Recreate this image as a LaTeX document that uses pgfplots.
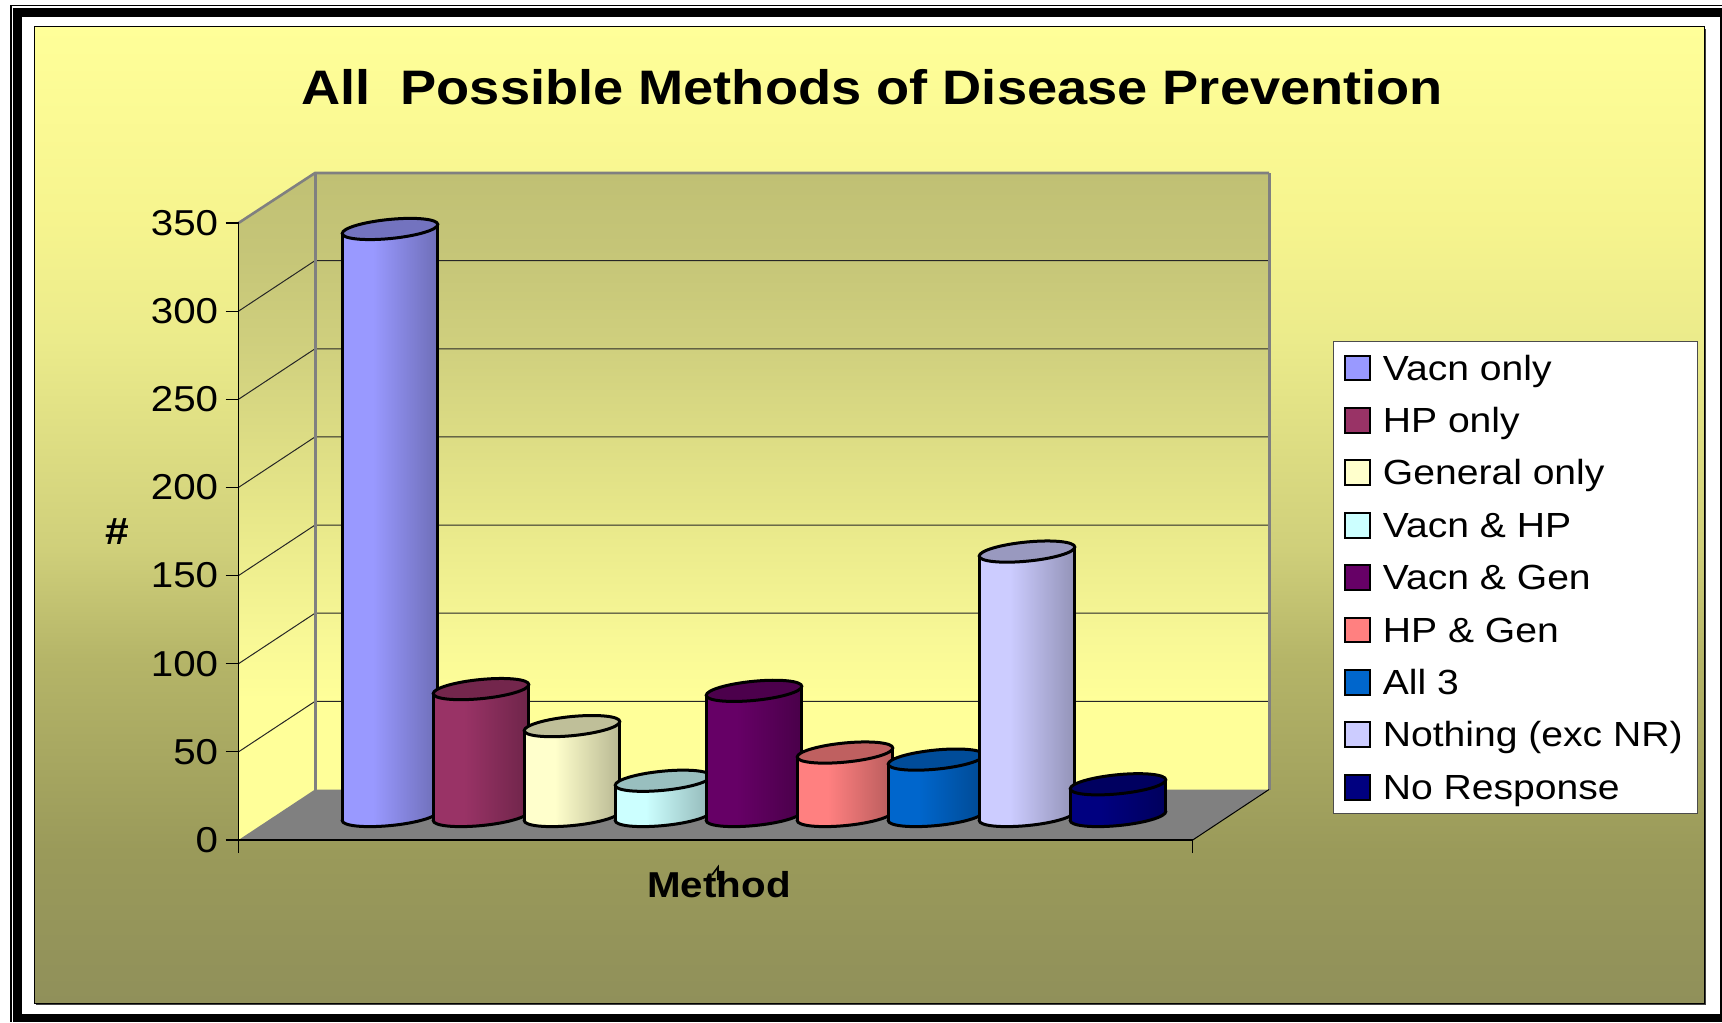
\documentclass[border=0pt]{standalone}
\usepackage{fontspec}
\setmainfont[FakeStretch=1.12]{Liberation Sans}
\usepackage{pgfplots}
\pgfplotsset{compat=1.18}
\usepackage{tikz}

% background gradients (bbox is mapped on 25bp..75bp)
\pgfdeclareverticalshading{chartbg}{100bp}{
  color(0bp)=(rgb,255:red,144;green,144;blue,90);
  color(25bp)=(rgb,255:red,144;green,144;blue,90);
  color(32.8bp)=(rgb,255:red,154;green,154;blue,90);
  color(42.6bp)=(rgb,255:red,181;green,181;blue,104);
  color(48.2bp)=(rgb,255:red,207;green,207;blue,122);
  color(59bp)=(rgb,255:red,235;green,235;blue,139);
  color(65.1bp)=(rgb,255:red,246;green,244;blue,142);
  color(75bp)=(rgb,255:red,255;green,255;blue,153);
  color(100bp)=(rgb,255:red,255;green,255;blue,153)}
\pgfdeclareverticalshading{wallbg}{100bp}{
  color(0bp)=(rgb,255:red,255;green,255;blue,153);
  color(35.5bp)=(rgb,255:red,255;green,255;blue,153);
  color(40bp)=(rgb,255:red,248;green,248;blue,150);
  color(49bp)=(rgb,255:red,232;green,232;blue,138);
  color(61.7bp)=(rgb,255:red,208;green,208;blue,126);
  color(68.5bp)=(rgb,255:red,198;green,198;blue,120);
  color(75bp)=(rgb,255:red,192;green,192;blue,116);
  color(100bp)=(rgb,255:red,192;green,192;blue,116)}

% one colour set per series: side shading, bottom and top ellipse
\newcommand{\defcyl}[2]{%
  \definecolor{cyl#1}{HTML}{#2}%
  \colorlet{cyl#1d}{cyl#1!72!black}%
  \colorlet{cyl#1t}{cyl#1!75!black}%
  \pgfdeclarehorizontalshading{shade#1}{100bp}{
    color(0bp)=(cyl#1); color(41bp)=(cyl#1);
    color(75bp)=(cyl#1d); color(100bp)=(cyl#1d)}%
  \pgfdeclareplotmark{bot#1}{%
    \pgfpathellipse{\pgfpointorigin}{\pgfqpoint{23.9pt}{2.25pt}}{\pgfqpoint{0pt}{4.8pt}}%
    \pgfshadepath{shade#1}{0}%
    \pgfsetlinewidth{1.5pt}\pgfsetstrokecolor{black}%
    \pgfpathellipse{\pgfpointorigin}{\pgfqpoint{23.9pt}{2.25pt}}{\pgfqpoint{0pt}{4.8pt}}%
    \pgfusepath{stroke}}%
  \pgfdeclareplotmark{top#1}{%
    \pgfsetlinewidth{1.5pt}\pgfsetstrokecolor{black}\pgfsetfillcolor{cyl#1t}%
    \pgfpathellipse{\pgfpointorigin}{\pgfqpoint{23.9pt}{2.25pt}}{\pgfqpoint{0pt}{4.8pt}}%
    \pgfusepath{fill,stroke}}%
}
\defcyl{a}{9999FF}
\defcyl{b}{993366}
\defcyl{c}{FFFFCC}
\defcyl{d}{CCFFFF}
\defcyl{e}{660066}
\defcyl{f}{FF8080}
\defcyl{g}{0066CC}
\defcyl{h}{CCCCFF}
\defcyl{i}{000080}

% position, value, colour set
\newcommand{\cyl}[3]{%
  \pgfmathsetmacro\xl{#1-0.525}%
  \pgfmathsetmacro\xr{#1+0.525}%
  \pgfmathsetmacro\tl{#2-2.55}%
  \pgfmathsetmacro\tr{#2+2.55}%
  \addplot[forget plot,only marks,mark=bot#3] coordinates {(#1,0)};
  \addplot[forget plot,draw=none,shade,shading=shade#3] coordinates {(\xl,\tl) (\xr,\tr) (\xr,2.55) (\xl,-2.55)} -- cycle;
  \addplot[forget plot,black,line width=1.5pt,no marks] coordinates {(\xl,-2.55) (\xl,\tl)};
  \addplot[forget plot,black,line width=1.5pt,no marks] coordinates {(\xr,2.55) (\xr,\tr)};
  \addplot[forget plot,only marks,mark=top#3] coordinates {(#1,#2)};
}

\begin{document}
\begin{tikzpicture}
% page, frame, walls and floor, in pixels of the reference
\begin{scope}[x=0.5pt,y=-0.5pt]
  \fill[white] (0,0) rectangle (1722,1022);
  \fill[black] (10,5) rectangle (1722,1022);
  \fill[white] (11.5,6.5) rectangle (1722,1022);
  \fill[black] (13,8) rectangle (1722,1022);
  \fill[white] (22,17) rectangle (1720,1014);
  \fill[black!75] (36,29) rectangle (1706,1004.5);
  \path[draw=black,line width=0.5pt,shading=chartbg] (34,27) rectangle (1704.5,1003);
  \path[shading=wallbg] (238.5,223) -- (315,173) -- (1269,173) -- (1269,789.5) -- (1192.7,840) -- (238.5,840) -- cycle;
  \fill[black!50] (238.5,840) -- (315,789.5) -- (1269,789.5) -- (1192.7,840) -- cycle;
  \foreach \k in {1,...,6} {
    \draw[black!85,line width=0.5pt] (238.5,840-88.14*\k) -- (315,789.5-88.14*\k) -- (1269,789.5-88.14*\k);
  }
  \draw[black!50,line width=1.3pt] (238.5,223) -- (315,173) -- (1269,173);
  \draw[black!50,line width=1.5pt] (315,173) -- (315,789.5);
  \draw[black!50,line width=1.5pt] (1269,173) -- (1269,789.5);
  \draw[black,line width=0.5pt] (1192.7,840) -- (1269,789.5);
  \draw[black,line width=0.8pt] (712,875) -- (718,867) -- (718,880);
\end{scope}

% front plane: value axis, title, axis names
\begin{axis}[
  at={(119.25pt,-420pt)},
  scale only axis,
  width=477.1pt,
  height=308.5pt,
  xmin=0, xmax=1,
  ymin=0, ymax=350,
  axis lines=left,
  axis line style={-,black,line width=0.7pt},
  xtick={0,1},
  xticklabels={,},
  ytick={0,50,...,350},
  tick align=outside,
  major tick length=6.5pt,
  tick style={black,line width=0.6pt},
  /pgf/number format/assume math mode=true,
  yticklabel style={font=\fontsize{18}{21}\selectfont,inner sep=0pt,xshift=-3.5pt},
  title={All\ \ Possible Methods of Disease Prevention},
  title style={font=\fontsize{24.2}{29}\selectfont\bfseries,at={(axis description cs:0.664,1.172)},anchor=base,inner sep=0pt},
  xlabel={Method},
  xlabel style={font=\fontsize{18}{22}\selectfont\bfseries,at={(axis description cs:0.5036,-0.0924)},anchor=base,inner sep=0pt},
  ylabel={\#},
  ylabel style={font=\fontsize{19}{22}\selectfont\bfseries,rotate=-90,at={(axis description cs:-0.127,0.5)},anchor=center,inner sep=0pt},
]
\end{axis}

% the cylinders stand on the middle of the floor
\begin{axis}[
  at={(119.25pt,-408pt)},
  scale only axis,
  width=477.1pt,
  height=308.5pt,
  xmin=-1.665, xmax=8.821,
  ymin=0, ymax=350,
  hide axis,
  clip=false,
  clip marker paths=true,
  legend image code/.code={\draw[#1,line width=1pt] (4.05pt,-6.2pt) rectangle (16.55pt,6.2pt);},
  legend cell align=left,
  legend style={
    at={(axis description cs:1.147,0.770)},anchor=north west,
    draw=black!70,fill=white,line width=0.5pt,
    font=\fontsize{17.45}{21}\selectfont,
    inner xsep=5.2pt,inner ysep=2.8pt,
    row sep=5.2pt,
    nodes={text height=14.5pt,text depth=2.5pt},
    /tikz/column 1/.style={column sep=4pt},
  },
]
\cyl{0}{333}{a}
\cyl{1}{72}{b}
\cyl{2}{51}{c}
\cyl{3}{20}{d}
\cyl{4}{71}{e}
\cyl{5}{36}{f}
\cyl{6}{32}{g}
\cyl{7}{150}{h}
\cyl{8}{18}{i}
\addlegendimage{draw=black,fill=cyla}\addlegendentry{Vacn only}
\addlegendimage{draw=black,fill=cylb}\addlegendentry{HP only}
\addlegendimage{draw=black,fill=cylc}\addlegendentry{General only}
\addlegendimage{draw=black,fill=cyld}\addlegendentry{Vacn \& HP}
\addlegendimage{draw=black,fill=cyle}\addlegendentry{Vacn \& Gen}
\addlegendimage{draw=black,fill=cylf}\addlegendentry{HP \& Gen}
\addlegendimage{draw=black,fill=cylg}\addlegendentry{All 3}
\addlegendimage{draw=black,fill=cylh}\addlegendentry{Nothing (exc NR)}
\addlegendimage{draw=black,fill=cyli}\addlegendentry{No Response}
\end{axis}
\end{tikzpicture}
\end{document}
